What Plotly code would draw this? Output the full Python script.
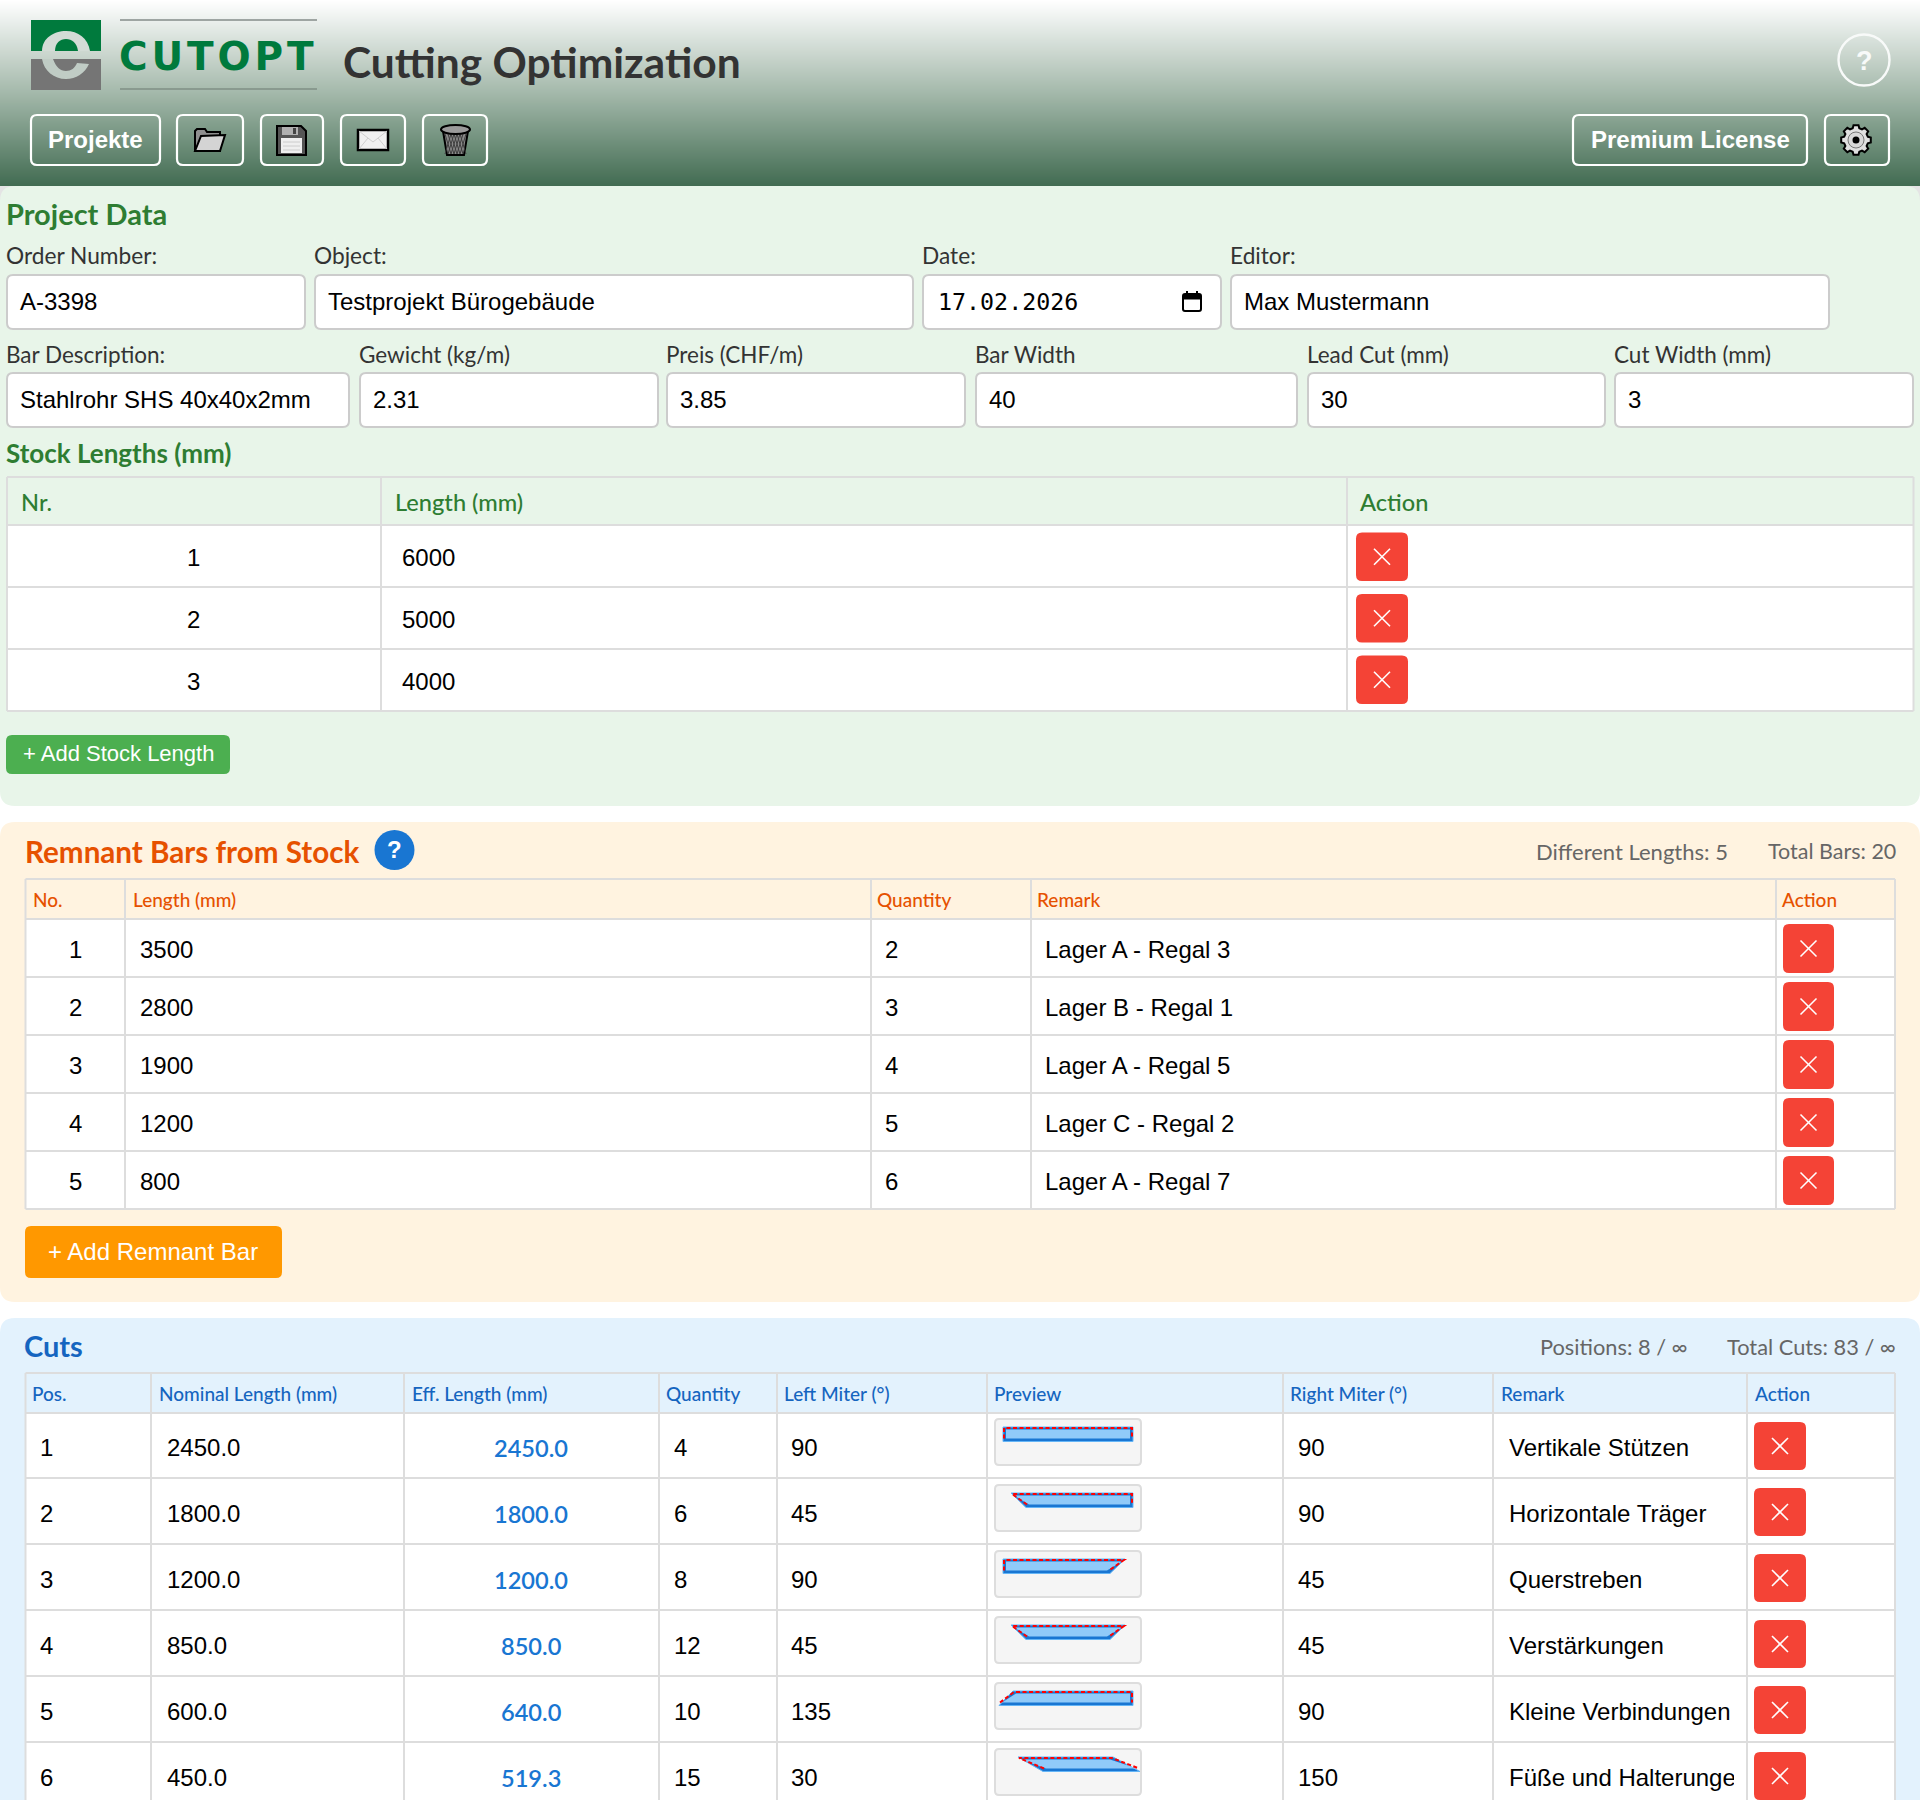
import math

import numpy as np
import plotly.graph_objects as go

# project data
project_labels = ['Order Number:', 'Object:', 'Date:', 'Editor:']
project_values = ['A-3398', 'Testprojekt Bürogebäude', '17.02.2026', 'Max Mustermann']
bar_labels = ['Bar Description:', 'Gewicht (kg/m)', 'Preis (CHF/m)', 'Bar Width', 'Lead Cut (mm)', 'Cut Width (mm)']
bar_values = ['Stahlrohr SHS 40x40x2mm', '2.31', '3.85', '40', '30', '3']

# stock lengths table
stock_headers = ['Nr.', 'Length (mm)', 'Action']
stock_nr = [1, 2, 3]
stock_length = [6000, 5000, 4000]

# remnant table
remnant_headers = ['No.', 'Length (mm)', 'Quantity', 'Remark', 'Action']
remnant_no = [1, 2, 3, 4, 5]
remnant_length = [3500, 2800, 1900, 1200, 800]
remnant_qty = [2, 3, 4, 5, 6]
remnant_remark = ['Lager A - Regal 3', 'Lager B - Regal 1', 'Lager A - Regal 5', 'Lager C - Regal 2', 'Lager A - Regal 7']

# cuts table
cut_headers = ['Pos.', 'Nominal Length (mm)', 'Eff. Length (mm)', 'Quantity', 'Left Miter (°)', 'Preview',
               'Right Miter (°)', 'Remark', 'Action']
cut_pos = [1, 2, 3, 4, 5, 6]
cut_nominal = ['2450.0', '1800.0', '1200.0', '850.0', '600.0', '450.0']
cut_eff = ['2450.0', '1800.0', '1200.0', '850.0', '640.0', '519.3']
cut_qty = [4, 6, 8, 12, 10, 15]
cut_left = [90, 45, 90, 45, 135, 30]
cut_right = [90, 90, 45, 45, 90, 150]
cut_remark = ['Vertikale Stützen', 'Horizontale Träger', 'Querstreben', 'Verstärkungen', 'Kleine Verbindungen',
              'Füße und Halterungen']

SANS = 'Liberation Sans'
HEAD = 'Lato'
GRID = '#dddddd'
RED = '#f44336'

shapes = []
notes = []


def txt(x, y, text, size=24, color='#000000', family=SANS, anchor='left', weight=400, width=None):
    if family == SANS:
        y -= 1
    notes.append(dict(x=x, y=y, xref='x', yref='y', text=text, showarrow=False, xanchor=anchor, yanchor='middle',
                      align=anchor, width=width, borderpad=0,
                      font=dict(family=family, size=size, color=color, weight=weight)))


def rrect(x0, y0, x1, y1, r, fill=None, line=None, lw=2):
    path = (f'M{x0 + r},{y0} L{x1 - r},{y0} Q{x1},{y0} {x1},{y0 + r} L{x1},{y1 - r} Q{x1},{y1} {x1 - r},{y1} '
            f'L{x0 + r},{y1} Q{x0},{y1} {x0},{y1 - r} L{x0},{y0 + r} Q{x0},{y0} {x0 + r},{y0} Z')
    shape(path, fill, line, lw)


def shape(path, fill=None, line=None, lw=1, dash=None):
    shapes.append(dict(type='path', path=path, fillcolor=fill or 'rgba(0,0,0,0)',
                       line=dict(color=line or 'rgba(0,0,0,0)', width=lw if line else 0, dash=dash)))


def seg(x0, y0, x1, y1, color=GRID, lw=2):
    shapes.append(dict(type='line', x0=x0, y0=y0, x1=x1, y1=y1, line=dict(color=color, width=lw)))


def circle(cx, cy, r, fill=None, line=None, lw=1):
    shapes.append(dict(type='circle', x0=cx - r, y0=cy - r, x1=cx + r, y1=cy + r, fillcolor=fill or 'rgba(0,0,0,0)',
                       line=dict(color=line or 'rgba(0,0,0,0)', width=lw if line else 0)))


def delete_button(x0, y0, x1, y1):
    rrect(x0, y0, x1, y1, 6, RED)
    cx, cy = (x0 + x1) / 2, (y0 + y1) / 2
    seg(cx - 8, cy - 8, cx + 8, cy + 8, 'white', 1.6)
    seg(cx - 8, cy + 8, cx + 8, cy - 8, 'white', 1.6)


def table_frame(x0, top, head_bottom, row_lines, columns):
    bottom = row_lines[-1]
    shapes.append(dict(type='rect', x0=x0, x1=columns[-1], y0=head_bottom, y1=bottom, fillcolor='white',
                       line=dict(width=0)))
    for y in [top, head_bottom] + row_lines:
        seg(x0, y, columns[-1], y)
    for x in [x0] + columns:
        seg(x, top, x, bottom)


# ---- header
ramp = np.linspace(0, 1, 94)
header = go.Heatmap(x=[-2, 1922], y=np.linspace(0, 186, 94), z=[[v, v] for v in ramp], zsmooth='best',
                    colorscale=[[0, '#ffffff'], [0.5, '#a3b8aa'], [1, '#416b51']], showscale=False, hoverinfo='skip')

# logo
shapes.append(dict(type='rect', x0=31, x1=101, y0=20, y1=51, fillcolor='#007a3d', line=dict(width=0)))
shapes.append(dict(type='rect', x0=31, x1=101, y0=59, y1=90, fillcolor='#757575', line=dict(width=0)))
shape('M42,51 C42,38 54,31 66,31 C78,31 88,38 90,51 Z', '#d3dcd6')
shape('M55,51 C55,43 60,39 66,39 C72,39 77,43 78,51 Z', '#007a3d')
shape('M42,59 L53,59 C56,67 60,71 66,71 C71,71 75,68 77,63 L89,64 C85,73 76,79 66,79 C54,79 44,71 42,59 Z', '#c0ccc5')
seg(120, 20, 317, 20, '#858c88', 1.5)
seg(120, 89, 317, 89, '#7f8f85', 1.5)
txt(118, 56, 'C\u200aU\u200aT\u200aO\u200aP\u200aT', 39, '#007a3d', 'DejaVu Sans', weight=700)
txt(342, 61, 'Cutting Optimization', 42.5, '#333333', HEAD, weight=700)

# header buttons
for x0, x1 in [(31, 160), (177, 243), (261, 323), (341, 405), (423, 487), (1573, 1807), (1825, 1889)]:
    rrect(x0, 115, x1, 165, 6, None, 'white', 2.2)
txt(95, 140, 'Projekte', 24, 'white', SANS, 'center', 700)
txt(1690, 140, 'Premium License', 24, 'white', SANS, 'center', 700)
circle(1864, 60, 25.5, None, '#f8faf9', 2.4)
txt(1864, 62, '?', 27, '#f8faf9', SANS, 'center', 700)

# folder
shape('M195,151 L195,131 L197,129 L205,129 L207,132 L220,132 L220,151 Z', '#8f8f8f', 'black', 2)
shape('M195,151 L201,136 L225,135 L220,151 Z', '#d4d4d4', 'black', 2)
# floppy
shape('M277,126 L301,126 L306,131 L306,155 L277,155 Z', '#555555', 'black', 2)
shapes.append(dict(type='rect', x0=282, x1=298, y0=127, y1=135, fillcolor='#b0b0b0', line=dict(width=0)))
shapes.append(dict(type='rect', x0=293, x1=296, y0=128, y1=134, fillcolor='#444444', line=dict(width=0)))
shapes.append(dict(type='rect', x0=281, x1=302, y0=138, y1=153, fillcolor='#efefef', line=dict(width=0)))
for y in [142, 146, 150]:
    seg(283, y, 300, y, '#cccccc', 1)
# mail
shapes.append(dict(type='rect', x0=358, x1=388, y0=130, y1=150, fillcolor='#f0f0f0', line=dict(color='black', width=2.5)))
shape('M359,131 L373,142 L387,131 M359,149 L368,138 M387,149 L378,138', None, '#cfcfcf', 1)
# bin
shape('M443,131 L468,131 L464,155 L447,155 Z', '#8a8a8a', 'black', 2)
mesh = ''.join(f'M{x},134 L{x + 6},154 M{x + 6},134 L{x},154 ' for x in [445, 448, 451, 454, 457, 460])
shape(mesh, None, '#3f3f3f', 1)
shapes.append(dict(type='circle', x0=441, x1=470, y0=125, y1=134, fillcolor='#9a9a9a', line=dict(color='black', width=2)))
# gear
gear = []
for i in range(8):
    a = i * math.pi / 4
    for da, r in [(-0.27, 12.2), (-0.17, 15), (0.17, 15), (0.27, 12.2)]:
        gear.append((1856 + r * math.cos(a + da), 140 + r * math.sin(a + da)))
shape('M' + ' L'.join(f'{x:.1f},{y:.1f}' for x, y in gear) + ' Z', '#e0e0e0', 'black', 2)
circle(1856, 140, 8, '#d8d8d8', '#777777', 1)
circle(1856, 140, 3.5, 'black')

# ---- project panel
for x0, x1 in [(0, 15), (1905, 1920)]:
    shapes.append(dict(type='rect', x0=x0, x1=x1, y0=186, y1=201, fillcolor='#e4e4e4', line=dict(width=0)))
rrect(0, 186, 1920, 806, 15, '#e8f5e9')
txt(5, 213, 'Project Data', 29, '#2e7d32', HEAD, weight=700)

input_spans = [(6, 305), (314, 913), (922, 1221), (1230, 1829)]
for (x0, x1), label, value in zip(input_spans, project_labels, project_values):
    txt(x0 - 1, 255, label, 22.7, '#333333', HEAD)
    rrect(x0 + 1, 275, x1, 329, 6, 'white', '#cccccc', 2)
    if label == 'Date:':
        txt(x0 + 15, 301, value, 23.3, '#000000', 'DejaVu Sans Mono')
    else:
        txt(x0 + 13, 302, value)
shape('M1185,294 L1199,294 Q1201,294 1201,296 L1201,309 Q1201,311 1199,311 L1185,311 Q1183,311 1183,309 L1183,296 '
      'Q1183,294 1185,294 Z M1183,298.5 L1201,298.5', None, 'black', 2)
shapes.append(dict(type='rect', x0=1183, x1=1201, y0=294, y1=298.5, fillcolor='black', line=dict(width=0)))
seg(1187, 291, 1187, 294, 'black', 2)
seg(1197, 291, 1197, 294, 'black', 2)

bar_spans = [(6, 349), (359, 658), (666, 965), (975, 1297), (1307, 1605), (1614, 1913)]
for (x0, x1), label, value in zip(bar_spans, bar_labels, bar_values):
    txt(x0 - 1, 354, label, 22.5, '#333333', HEAD)
    rrect(x0 + 1, 373, x1, 427, 6, 'white', '#cccccc', 2)
    txt(x0 + 13, 400, value)

txt(5, 453, 'Stock Lengths (mm)', 26, '#2e7d32', HEAD, weight=700)
stock_rows = [525, 587, 649, 711]
table_frame(7, 477, 525, stock_rows[1:], [381, 1347, 1913.5])
for x, label in zip([19.5, 393.5, 1359], stock_headers):
    txt(x, 502, label, 23.6, '#2e7d32', HEAD, weight=500)
for i, (nr, length) in enumerate(zip(stock_nr, stock_length)):
    y = 558 + i * 62
    txt(193.5, y, str(nr), anchor='center')
    txt(401, y, str(length))
    delete_button(1356, 532.5 + i * 61.5, 1408, 581 + i * 61.5)
rrect(6, 735, 230, 774, 6, '#4caf50')
txt(118, 754, '+ Add Stock Length', 22, 'white', SANS, 'center')

# ---- remnant panel
rrect(0, 822, 1920, 1302, 15, '#fff3e0')
txt(23.5, 851, 'Remnant Bars from Stock', 29.6, '#e65100', HEAD, weight=700)
circle(394.5, 850, 20, '#1976d2')
txt(394.5, 850, '?', 24, 'white', SANS, 'center', 700)
txt(1729, 851, 'Different Lengths: 5', 22, '#666666', HEAD, 'right')
txt(1897, 851, 'Total Bars: 20', 21.5, '#666666', HEAD, 'right')

remnant_rows = [919, 977, 1035, 1093, 1151, 1209]
table_frame(25.5, 879, 919, remnant_rows[1:], [125, 871, 1031, 1776, 1895])
for x, label in zip([31.5, 131.5, 875.5, 1035.5, 1781], remnant_headers):
    txt(x, 899, label, 19, '#e65100', HEAD, weight=500)
for i in range(len(remnant_no)):
    y = 950 + i * 58
    txt(75, y, str(remnant_no[i]), anchor='center')
    txt(139, y, str(remnant_length[i]))
    txt(884, y, str(remnant_qty[i]))
    txt(1044, y, remnant_remark[i])
    delete_button(1783, 924 + i * 58, 1834, 973 + i * 58)
rrect(25, 1226, 282, 1278, 6, '#ff9800')
txt(153, 1252, '+ Add Remnant Bar', 24, 'white', SANS, 'center')

# ---- cuts panel
rrect(0, 1318, 1920, 1840, 15, '#e3f2fd')
txt(23, 1345, 'Cuts', 29, '#1565c0', HEAD, weight=700)
txt(1689, 1346, 'Positions: 8 / ∞', 21.8, '#666666', HEAD, 'right')
txt(1897, 1346, 'Total Cuts: 83 / ∞', 21.8, '#666666', HEAD, 'right')

cut_rows = [1413, 1478, 1544, 1610, 1676, 1742, 1808]
table_frame(25.5, 1373, 1413, cut_rows[1:], [151, 404, 659, 777, 987, 1283, 1493, 1747, 1895])
for x, label in zip([31, 158, 411, 664.5, 782.5, 993, 1288.5, 1500, 1753.5], cut_headers):
    txt(x, 1393, label, 19, '#1565c0', HEAD, weight=500)

# top / bottom x shift of each preview end, by miter angle
LEFT_END = {90: (0, 0), 45: (8, 23), 135: (10, -4), 30: (15, 40)}
RIGHT_END = {90: (0, 0), 45: (-8, -23), 150: (-20, 7)}

for i in range(len(cut_pos)):
    y = 1448 + i * 66
    txt(39, y, str(cut_pos[i]))
    txt(166, y, cut_nominal[i])
    txt(531, y, cut_eff[i], 23.6, '#1976d2', HEAD, 'center', 600)
    txt(673, y, str(cut_qty[i]))
    txt(790, y, str(cut_left[i]))
    txt(1297, y, str(cut_right[i]))
    txt(1508, y, cut_remark[i], width=225)
    delete_button(1754, 1422 + i * 66, 1806, 1470 + i * 66)

    top = 1418 + i * 66
    rrect(995, top + 1, 1141, top + 47, 4, '#f5f5f5', GRID, 2)
    yt, yb = top + 9, top + 23.5
    lt, lb = LEFT_END[cut_left[i]]
    rt, rb = RIGHT_END[cut_right[i]]
    xlt, xlb, xrt, xrb = 1003 + lt, 1003 + lb, 1133 + rt, 1133 + rb
    shape(f'M{xlt},{yt} L{xrt},{yt} L{xrb},{yb} L{xlb},{yb} Z', '#1976d2', '#64b5f6', 1)
    shape(f'M{xlt + 3},{yt + 2.5} L{xrt - 3},{yt + 2.5} L{xrb - 3},{yb - 3} L{xlb + 3},{yb - 3} Z', '#90caf9')
    shape(f'M{xlb + 1},{yb - 3} L{xlt + 1},{yt + 1} L{xrt - 1},{yt + 1} L{xrb - 1},{yb - 3}', None, '#ff0000', 2,
          '4px,2.5px')

fig = go.Figure(header)
fig.update_layout(width=1920, height=1800, margin=dict(l=0, r=0, t=0, b=0), paper_bgcolor='white',
                  plot_bgcolor='white', shapes=shapes, annotations=notes, showlegend=False,
                  xaxis=dict(range=[0, 1920], visible=False, fixedrange=True),
                  yaxis=dict(range=[1800, 0], visible=False, fixedrange=True))

fig.write_html('out.html', config=dict(displayModeBar=False), post_script="document.body.style.margin='0';")
